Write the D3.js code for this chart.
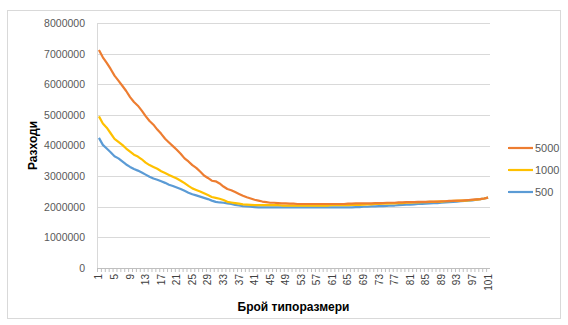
<!DOCTYPE html>
<html>
<head>
<meta charset="utf-8">
<script src="https://cdn.jsdelivr.net/npm/d3@7"></script>
<style>
  body { margin: 0; background: #fff; }
  text { font-family: "Liberation Sans", Arial, sans-serif; }
</style>
</head>
<body>
<div id="chart"></div>
<script>
// chart size, same as the window
var svgWidth = 568;
var svgHeight = 325;

// categories 1..101 (Брой типоразмери)
var categories = d3.range(1, 102);

// series values, in millions
var s5000 = [7.12, 6.88, 6.70, 6.50, 6.28, 6.12, 5.95, 5.78, 5.58, 5.42,
  5.30, 5.14, 4.96, 4.80, 4.68, 4.52, 4.38, 4.22, 4.10, 3.98,
  3.86, 3.73, 3.58, 3.48, 3.36, 3.27, 3.15, 3.02, 2.94, 2.85,
  2.83, 2.76, 2.66, 2.58, 2.54, 2.48, 2.42, 2.36, 2.31, 2.27,
  2.23, 2.20, 2.17, 2.15, 2.13, 2.13, 2.12, 2.11, 2.11, 2.10,
  2.10, 2.09, 2.09, 2.09, 2.09, 2.09, 2.09, 2.09, 2.09, 2.09,
  2.09, 2.09, 2.09, 2.09, 2.10, 2.10, 2.11, 2.11, 2.11, 2.11,
  2.11, 2.12, 2.12, 2.12, 2.13, 2.13, 2.13, 2.14, 2.14, 2.15,
  2.15, 2.15, 2.16, 2.16, 2.16, 2.17, 2.17, 2.17, 2.18, 2.18,
  2.19, 2.19, 2.20, 2.20, 2.21, 2.22, 2.23, 2.24, 2.25, 2.27, 2.30];

var s1000 = [4.95, 4.72, 4.58, 4.40, 4.22, 4.12, 4.02, 3.90, 3.80, 3.70,
  3.64, 3.55, 3.44, 3.36, 3.30, 3.24, 3.16, 3.10, 3.04, 2.98,
  2.92, 2.85, 2.77, 2.68, 2.60, 2.55, 2.50, 2.44, 2.38, 2.32,
  2.29, 2.26, 2.22, 2.16, 2.14, 2.12, 2.10, 2.08, 2.07, 2.06,
  2.05, 2.05, 2.05, 2.05, 2.05, 2.05, 2.05, 2.04, 2.04, 2.04,
  2.04, 2.04, 2.04, 2.04, 2.04, 2.04, 2.04, 2.04, 2.04, 2.04,
  2.05, 2.05, 2.05, 2.05, 2.05, 2.06, 2.06, 2.06, 2.07, 2.08,
  2.08, 2.09, 2.09, 2.10, 2.10, 2.11, 2.11, 2.12, 2.12, 2.13,
  2.13, 2.14, 2.14, 2.15, 2.15, 2.16, 2.16, 2.17, 2.17, 2.18,
  2.18, 2.19, 2.19, 2.20, 2.20, 2.21, 2.22, 2.23, 2.25, 2.27, 2.30];

var s500 = [4.25, 4.02, 3.90, 3.78, 3.65, 3.58, 3.48, 3.38, 3.30, 3.23,
  3.18, 3.12, 3.05, 2.98, 2.92, 2.88, 2.83, 2.78, 2.72, 2.68,
  2.63, 2.58, 2.52, 2.46, 2.41, 2.37, 2.33, 2.29, 2.25, 2.20,
  2.16, 2.14, 2.13, 2.11, 2.09, 2.06, 2.04, 2.02, 2.01, 2.00,
  1.99, 1.98, 1.98, 1.98, 1.98, 1.98, 1.98, 1.98, 1.98, 1.98,
  1.98, 1.98, 1.98, 1.98, 1.98, 1.98, 1.98, 1.98, 1.98, 1.98,
  1.98, 1.98, 1.98, 1.98, 1.98, 1.98, 1.99, 1.99, 2.00, 2.00,
  2.01, 2.01, 2.02, 2.02, 2.03, 2.04, 2.04, 2.05, 2.06, 2.07,
  2.07, 2.08, 2.09, 2.09, 2.10, 2.11, 2.12, 2.12, 2.13, 2.14,
  2.15, 2.16, 2.17, 2.18, 2.19, 2.20, 2.21, 2.23, 2.25, 2.27, 2.30];

var seriesNames = ["5000", "1000", "500"];
var seriesColors = ["#ED7D31", "#FFC000", "#5B9BD5"];
var yTicks = [0, 1000000, 2000000, 3000000, 4000000, 5000000, 6000000, 7000000, 8000000];

// plot area margins
var margin = { top: 23, right: 78, bottom: 57, left: 97 };
var width = svgWidth - margin.left - margin.right,
    height = svgHeight - margin.top - margin.bottom;

var svg = d3.select("#chart").append("svg")
    .attr("width", svgWidth)
    .attr("height", svgHeight);

// outer chart border
svg.append("rect")
    .attr("x", 7.5).attr("y", 10.5)
    .attr("width", 553).attr("height", 308)
    .attr("fill", "none")
    .attr("stroke", "#D9D9D9");

var chart = svg.append("g")
    .attr("transform", `translate(${margin.left}, ${margin.top})`);

var x = d3.scaleBand().domain(categories).range([0, width]).padding(0);
var y = d3.scaleLinear().domain([0, 8000000]).range([height, 0]);

// gridlines
chart.append("g")
    .selectAll("line")
    .data(yTicks.slice(1))
    .enter().append("line")
    .attr("x1", 0).attr("x2", width)
    .attr("y1", d => Math.round(y(d)) + 0.5)
    .attr("y2", d => Math.round(y(d)) + 0.5)
    .attr("stroke", "#D9D9D9");

// y axis labels
var yAxis = chart.append("g")
    .call(d3.axisLeft(y).tickValues(yTicks).tickSize(0).tickPadding(12).tickFormat(d3.format("d")));
yAxis.select(".domain").remove();
yAxis.selectAll("text")
    .attr("fill", "#595959")
    .style("font-size", "10.5px");

// left axis line
chart.append("line")
    .attr("x1", 0.5).attr("x2", 0.5)
    .attr("y1", 0).attr("y2", height)
    .attr("stroke", "#D9D9D9");

// bottom axis line and minor ticks at every category edge
chart.append("line")
    .attr("x1", 0).attr("x2", width)
    .attr("y1", height + 0.5).attr("y2", height + 0.5)
    .attr("stroke", "#BFBFBF");
chart.append("g")
    .selectAll("line")
    .data(categories)
    .enter().append("line")
    .attr("x1", d => x(d) + 0.5).attr("x2", d => x(d) + 0.5)
    .attr("y1", height).attr("y2", height + 4)
    .attr("stroke", "#BFBFBF");

// x labels every 4th category, rotated
var xAxis = chart.append("g")
    .attr("transform", `translate(0, ${height})`)
    .call(d3.axisBottom(x).tickValues(categories.filter(d => (d - 1) % 4 === 0)).tickSize(0));
xAxis.select(".domain").remove();
xAxis.selectAll("text")
    .attr("transform", "rotate(-90)")
    .attr("text-anchor", "end")
    .attr("x", -6)
    .attr("y", 0)
    .attr("dy", "0.35em")
    .attr("fill", "#404040")
    .style("font-size", "10px");

// the lines
var allSeries = [s5000, s1000, s500];
var line = d3.line()
    .x((d, i) => x(categories[i]) + x.bandwidth() / 2)
    .y(d => y(d * 1000000));

chart.selectAll(".series")
    .data([2, 1, 0])
    .enter().append("path")
    .attr("class", "series")
    .attr("d", k => line(allSeries[k]))
    .attr("fill", "none")
    .attr("stroke", k => seriesColors[k])
    .attr("stroke-width", 2.2)
    .attr("stroke-linejoin", "round");

// legend
var legend = svg.append("g").attr("transform", "translate(508, 148)");
seriesNames.forEach(function (name, i) {
    var g = legend.append("g").attr("transform", `translate(0, ${i * 22})`);
    g.append("line")
        .attr("x1", 0).attr("x2", 25)
        .attr("stroke", seriesColors[i])
        .attr("stroke-width", 2.2);
    g.append("text")
        .attr("x", 27).attr("dy", "0.35em")
        .attr("fill", "#595959")
        .style("font-size", "11px")
        .text(name);
});

// axis titles
svg.append("text")
    .attr("transform", `translate(37, ${margin.top + height / 2}) rotate(-90)`)
    .attr("text-anchor", "middle")
    .style("font-size", "12px")
    .style("font-weight", "bold")
    .text("Разходи");

svg.append("text")
    .attr("x", margin.left + width / 2)
    .attr("y", 311)
    .attr("text-anchor", "middle")
    .style("font-size", "12px")
    .style("font-weight", "bold")
    .text("Брой типоразмери");
</script>
</body>
</html>
